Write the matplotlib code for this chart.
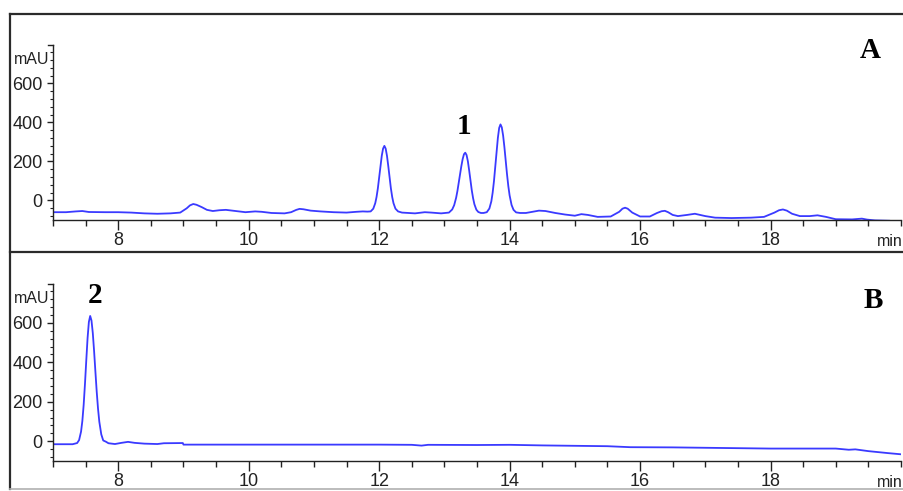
import numpy as np
import matplotlib.pyplot as plt
from matplotlib.lines import Line2D
from matplotlib.ticker import FixedLocator, MultipleLocator

# chromatogram A (sample), retention time in min / absorbance in mAU
time_a = [7.0, 7.2, 7.35, 7.45, 7.55, 7.8, 8.0, 8.2, 8.4, 8.6,
          8.8, 8.95, 9.05, 9.1, 9.15, 9.2, 9.28, 9.36, 9.45, 9.55,
          9.65, 9.8, 9.95, 10.1, 10.2, 10.35, 10.55, 10.65, 10.73, 10.78,
          10.84, 10.95, 11.1, 11.3, 11.5, 11.65, 11.75, 11.82, 11.87, 11.91,
          11.94, 11.96, 11.98, 12.0, 12.02, 12.04, 12.06, 12.08, 12.1, 12.12,
          12.14, 12.16, 12.18, 12.2, 12.22, 12.25, 12.29, 12.35, 12.45, 12.55,
          12.7, 12.8, 12.95, 13.07, 13.12, 13.15, 13.18, 13.2, 13.22, 13.24,
          13.26, 13.28, 13.3, 13.32, 13.34, 13.36, 13.38, 13.4, 13.42, 13.44,
          13.46, 13.49, 13.52, 13.56, 13.6, 13.65, 13.69, 13.72, 13.74, 13.76,
          13.78, 13.8, 13.82, 13.84, 13.86, 13.88, 13.9, 13.92, 13.94, 13.96,
          13.98, 14.0, 14.03, 14.06, 14.1, 14.16, 14.25, 14.35, 14.45, 14.55,
          14.7, 14.85, 15.0, 15.1, 15.2, 15.35, 15.55, 15.68, 15.73, 15.77,
          15.81, 15.88, 16.0, 16.15, 16.26, 16.33, 16.38, 16.43, 16.5, 16.58,
          16.72, 16.84, 17.0, 17.15, 17.4, 17.7, 17.9, 18.06, 18.13, 18.19,
          18.25, 18.33, 18.45, 18.6, 18.72, 18.85, 19.0, 19.25, 19.4, 19.48,
          19.6, 19.82]
signal_a = [-60, -60, -56, -54, -59, -60, -60, -62, -66, -68,
            -66, -62, -40, -25, -18, -22, -34, -48, -54, -50,
            -48, -54, -60, -56, -58, -64, -66, -60, -48, -43,
            -45, -52, -56, -60, -62, -58, -56, -57, -56, -42,
            -14, 18, 62, 117, 176, 229, 266, 280, 266, 229,
            176, 117, 62, 18, -14, -42, -56, -62, -64, -66,
            -60, -62, -66, -62, -46, -24, 14, 49, 90, 134,
            176, 212, 237, 245, 233, 201, 154, 102, 52, 12,
            -19, -47, -59, -64, -64, -60, -41, -4, 40, 99,
            172, 250, 321, 372, 390, 375, 334, 274, 204, 135,
            74, 26, -23, -48, -61, -64, -64, -58, -52, -54,
            -64, -72, -78, -70, -74, -84, -82, -58, -42, -37,
            -42, -62, -82, -82, -64, -55, -53, -60, -74, -80,
            -74, -68, -80, -88, -90, -88, -84, -62, -50, -46,
            -52, -68, -80, -80, -76, -84, -96, -97, -93, -98,
            -102, -104]

# chromatogram B (standard)
time_b = [7.0, 7.3, 7.37, 7.4, 7.43, 7.45, 7.47, 7.49, 7.51, 7.53,
          7.55, 7.57, 7.59, 7.61, 7.63, 7.65, 7.67, 7.69, 7.71, 7.74,
          7.77, 7.81, 7.85, 7.95, 8.05, 8.15, 8.25, 8.4, 8.6, 8.7,
          8.99, 9.0, 10.0, 11.0, 12.0, 12.5, 12.65, 12.75, 13.5, 14.0,
          14.5, 15.0, 15.5, 15.85, 16.5, 17.5, 18.0, 18.5, 19.0, 19.2,
          19.3, 19.5, 19.8, 20.0]
signal_b = [-15, -15, -9, 6, 49, 103, 184, 290, 409, 523,
            605, 635, 612, 549, 457, 353, 252, 166, 99, 35,
            4, -2, -10, -14, -8, -3, -8, -12, -14, -10,
            -9, -17, -17, -17, -17, -18, -22, -18, -19, -18,
            -21, -23, -25, -30, -31, -35, -37, -37, -37, -43,
            -41, -50, -60, -66]

y_major = [0, 200, 400, 600]
x_major = [8, 10, 12, 14, 16, 18]
x_range = (7, 20)
y_range = (-100, 797)

W, H = 904, 491
fig = plt.figure(figsize=(W / 100, H / 100), dpi=100)
plt.rcParams['font.family'] = ['Liberation Sans', 'DejaVu Sans']


def px(x0, y0, x1, y1):
    # pixel box -> figure fraction rect
    return [x0 / W, 1 - y1 / H, (x1 - x0) / W, (y1 - y0) / H]


# panel frames
frame = dict(color='#2b2b2b', lw=1.6, transform=fig.transFigure)
fig.add_artist(Line2D([10 / W, 1], [1 - 14 / H] * 2, **frame))
fig.add_artist(Line2D([10 / W, 1], [1 - 252 / H] * 2, **frame))
fig.add_artist(Line2D([10 / W, 10 / W], [1 - 14 / H, 1 - 489 / H], **frame))
fig.add_artist(Line2D([10 / W, 1], [1 - 489 / H] * 2, color='#b0b0b0', lw=1.2,
                      transform=fig.transFigure))


def chrom(rect, t, s):
    ax = fig.add_axes(rect)
    ax.plot(t, s, color='#3a3aff', lw=1.3)
    ax.set_xlim(*x_range)
    ax.set_ylim(*y_range)
    for side in ('top', 'right'):
        ax.spines[side].set_visible(False)
    for side in ('left', 'bottom'):
        ax.spines[side].set_linewidth(1.0)
        ax.spines[side].set_color('#222222')
    ax.patch.set_alpha(0)

    ax.xaxis.set_major_locator(FixedLocator(x_major))
    ax.xaxis.set_minor_locator(MultipleLocator(0.5))
    ax.yaxis.set_major_locator(FixedLocator(y_major))
    ax.yaxis.set_minor_locator(MultipleLocator(40))
    ax.tick_params(axis='x', which='major', length=7, width=1, pad=1.5,
                   labelsize=13, colors='#222222')
    ax.tick_params(axis='x', which='minor', length=4.3, width=1, color='#222222')
    ax.tick_params(axis='y', which='major', length=4, width=1, pad=3.5,
                   labelsize=13, colors='#222222')
    ax.tick_params(axis='y', which='minor', length=2.2, width=0.8, color='#222222')

    # bracket at the top of the y axis
    ax.plot([-0.006, 0], [1, 1], color='#222222', lw=1.0,
            transform=ax.transAxes, clip_on=False)
    ax.text(-0.0465, 0.92, 'mAU', transform=ax.transAxes, fontsize=11.5,
            color='#222222', ha='left', va='center')
    ax.text(0.972, -0.12, 'min', transform=ax.transAxes, fontsize=11.5,
            color='#222222', ha='left', va='center')
    return ax


ax_a = chrom(px(53, 45, 901, 220), time_a, signal_a)
ax_b = chrom(px(53, 284, 901, 461), time_b, signal_b)

label_font = dict(family=['Liberation Serif', 'DejaVu Serif'], fontweight='bold',
                  fontsize=21, color='black', ha='center', va='center')
ax_a.text(13.3, 380, '1', **label_font)
ax_b.text(7.64, 740, '2', **label_font)
fig.text(870 / W, 1 - 50 / H, 'A', **label_font)
fig.text(873 / W, 1 - 300 / H, 'B', **label_font)

fig.savefig('out.png', dpi=100)
